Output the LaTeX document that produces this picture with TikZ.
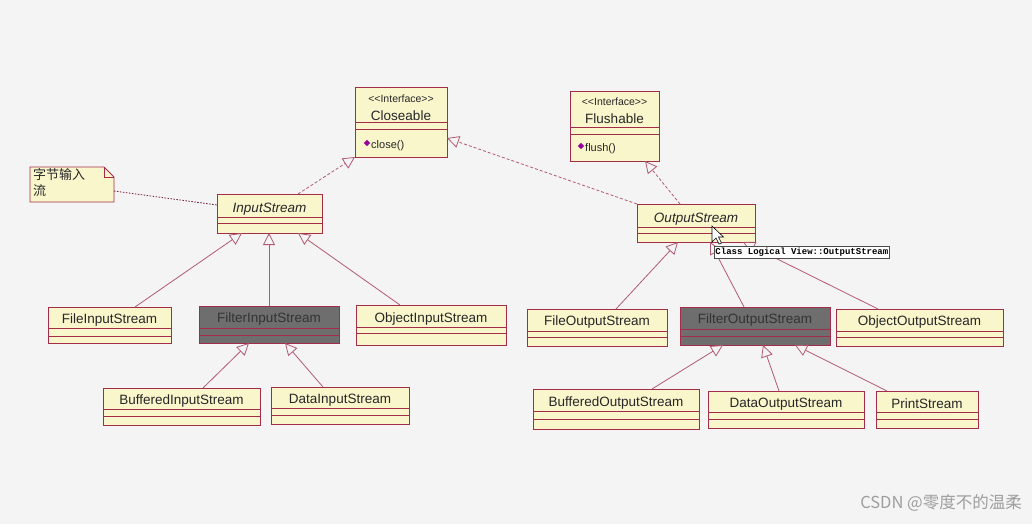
\documentclass[tikz,border=0pt]{standalone}
\usepackage{fontspec}
\setmainfont{Liberation Sans}
\newfontfamily\cjk{Noto Sans CJK SC}
\newfontfamily\monof{Liberation Mono}
\usetikzlibrary{arrows.meta,calc}
\definecolor{bgc}{HTML}{F4F4F4}
\definecolor{boxfill}{HTML}{FAF6CC}
\definecolor{boxdraw}{HTML}{A32C4A}
\definecolor{linec}{HTML}{B05A72}
\definecolor{grayfill}{HTML}{6E6E6E}
\definecolor{txt}{HTML}{262626}
\tikzset{
  box/.style={draw=boxdraw, fill=boxfill, line width=0.9pt, inner sep=0pt, outer sep=0pt},
  graybox/.style={draw=boxdraw, fill=grayfill, line width=0.9pt, inner sep=0pt, outer sep=0pt},
  sep/.style={draw=boxdraw, line width=0.9pt},
  cname/.style={text=txt, inner sep=0pt, yshift=-1.2pt, font=\fontsize{13.5}{15}\selectfont},
  cgname/.style={text=black!80, inner sep=0pt, yshift=-1.2pt, font=\fontsize{13.5}{15}\selectfont},
  stereo/.style={text=txt, inner sep=0pt, font=\fontsize{10.5}{12}\selectfont},
  meth/.style={text=txt, inner sep=0pt, font=\fontsize{11}{12}\selectfont, anchor=west},
  gen/.style={draw=linec, line width=0.8pt, -{Triangle[open, length=12pt, width=12pt, line width=0.8pt]}},
  real/.style={gen, dash pattern=on 3pt off 2pt},
  notelink/.style={draw=boxdraw!70!black, line width=0.8pt, dash pattern=on 1.5pt off 1.5pt},
}
% #1 name, #2 x1, #3 y1, #4 x2, #5 y2, #6 l1, #7 l2, #8 box style, #9 unused
\newcommand\umlclass[9]{%
  \node[#8, minimum width={#4-#2}, minimum height={#5-#3}] (#1) at ({(#2+#4)/2},{(#3+#5)/2}) {};
  \draw[sep] (#1.west |- 0,#6) -- (#1.east |- 0,#6);
  \draw[sep] (#1.west |- 0,#7) -- (#1.east |- 0,#7);
}
\begin{document}
\begin{tikzpicture}[x=1pt,y=-1pt]
\path[fill=bgc] (0,0) rectangle (1032,524);
\useasboundingbox (0,0) rectangle (1032,524);

% interfaces
\umlclass{closeable}{355}{87}{447}{157}{122}{129}{box}{}
\node[stereo] (closeable-s) at (401,99) {<{}<Interface>{}>};
\node[cname] (closeable-t) at (401,114) {Closeable};
\node[fill=violet!80!magenta, minimum size=4.5pt, inner sep=0pt, rotate=45] (closeable-i) at (367,143) {};
\node[meth] (closeable-m) at (371,146) {close()};

\umlclass{flushable}{570}{91}{659}{161}{127}{134}{box}{}
\node[stereo] (flushable-s) at (614.5,102) {<{}<Interface>{}>};
\node[cname] (flushable-t) at (614.5,117) {Flushable};
\node[fill=violet!80!magenta, minimum size=4.5pt, inner sep=0pt, rotate=45] (flushable-i) at (581,146) {};
\node[meth] (flushable-m) at (585,149) {flush()};

% abstract classes
\umlclass{is}{217}{194}{322}{233}{217}{223}{box}{}
\node[cname, font=\fontsize{13.5}{15}\selectfont\itshape] (is-t) at (269.5,207.5) {InputStream};
\umlclass{os}{637}{204}{755}{242}{227}{233}{box}{}
\node[cname, font=\fontsize{13.5}{15}\selectfont\itshape] (os-t) at (696,217.5) {OutputStream};

% input classes
\umlclass{fis}{48}{307}{171}{343}{328}{336}{box}{}
\node[cname] (fis-t) at (109.5,319) {FileInputStream};
\umlclass{fltis}{199}{306}{339}{343}{328}{335}{graybox}{}
\node[cgname] (fltis-t) at (269,318) {FilterInputStream};
\umlclass{ois}{356}{305}{506}{345}{327}{333}{box}{}
\node[cname] (ois-t) at (431,317.5) {ObjectInputStream};
\umlclass{bis}{103}{388}{260}{425}{409}{416}{box}{}
\node[cname] (bis-t) at (181.5,399.5) {BufferedInputStream};
\umlclass{dis}{271}{387}{409}{424}{408}{415}{box}{}
\node[cname] (dis-t) at (340,398.5) {DataInputStream};

% output classes
\umlclass{fos}{527}{309}{667}{346}{331}{337}{box}{}
\node[cname] (fos-t) at (597,321) {FileOutputStream};
\umlclass{fltos}{680}{307}{830}{345}{329}{336}{graybox}{}
\node[cgname] (fltos-t) at (755,319) {FilterOutputStream};
\umlclass{oos}{836}{309}{1003}{346}{331}{337}{box}{}
\node[cname] (oos-t) at (919.5,321) {ObjectOutputStream};
\umlclass{bos}{533}{389}{699}{429}{411}{419}{box}{}
\node[cname] (bos-t) at (616,401.5) {BufferedOutputStream};
\umlclass{dos}{708}{391}{864}{428}{412}{419}{box}{}
\node[cname] (dos-t) at (786,402.5) {DataOutputStream};
\umlclass{ps}{876}{391}{978}{428}{412}{419}{box}{}
\node[cname] (ps-t) at (927,402.5) {PrintStream};

% note
\path[draw=boxdraw, fill=boxfill, line width=0.9pt] (30,167) -- (104,167) -- (114,177) -- (114,202) -- (30,202) -- cycle;
\draw[draw=boxdraw, line width=0.7pt] (104,167) -- (104,177) -- (114,177);
\coordinate (note) at (114,191);
\node[inner sep=0pt, anchor=north west, align=left, text=txt, font=\cjk\fontsize{13}{16}\selectfont] (note-t) at (33,168) {字节输入\\流};

% realizations
\draw[real] ([xshift=81pt]is.north west) -- (closeable.south west);
\draw[real] (os.north west) -- ([yshift=19pt]closeable.south east);
\draw[real] ([xshift=43pt]os.north west) -- ([xshift=75pt]flushable.south west);
\draw[notelink] (note) -- ([yshift=-11pt]is.north west);

% generalizations input
\draw[gen] ([xshift=87pt]fis.north west) -- ([xshift=25pt]is.south west);
\draw[gen] (fltis.north) -- (fltis.north |- is.south);
\draw[gen] ([xshift=44pt]ois.north west) -- ([xshift=81pt]is.south west);
\draw[gen] ([xshift=100pt]bis.north west) -- ([xshift=50pt]fltis.south west);
\draw[gen] ([xshift=52pt]dis.north west) -- ([xshift=86pt]fltis.south west);

% generalizations output
\draw[gen] ([xshift=89pt]fos.north west) -- ([xshift=41pt]os.south west);
\draw[gen] ([xshift=64pt]fltos.north west) -- ([xshift=73pt]os.south west);
\draw[gen] ([xshift=42pt]oos.north west) -- ([xshift=106pt]os.south west);
\draw[gen] ([xshift=119pt]bos.north west) -- ([xshift=43pt]fltos.south west);
\draw[gen] ([xshift=71pt]dos.north west) -- ([xshift=83pt]fltos.south west);
\draw[gen] ([xshift=11pt]ps.north west) -- ([xshift=115pt]fltos.south west);

% mouse cursor and tooltip
\path[draw=black, fill=white, line width=0.6pt] (712,226) -- (712,242) -- (716,238) -- (719,244) -- (721.5,243) -- (718.5,237) -- (723.5,237) -- cycle;
\node[draw=black!70, fill=white, line width=0.5pt, inner sep=1.2pt, anchor=north west, font=\monof\fontsize{9}{10}\selectfont\bfseries, text=black, minimum height=12pt] (tip) at (714,246) {Class Logical View::OutputStream};

% watermark
\node[anchor=east, inner sep=0pt, text=black!38, font=\cjk\fontsize{16.5}{18}\selectfont] (wm) at (1022,503) {CSDN @零度不的温柔};
\end{tikzpicture}
\end{document}
